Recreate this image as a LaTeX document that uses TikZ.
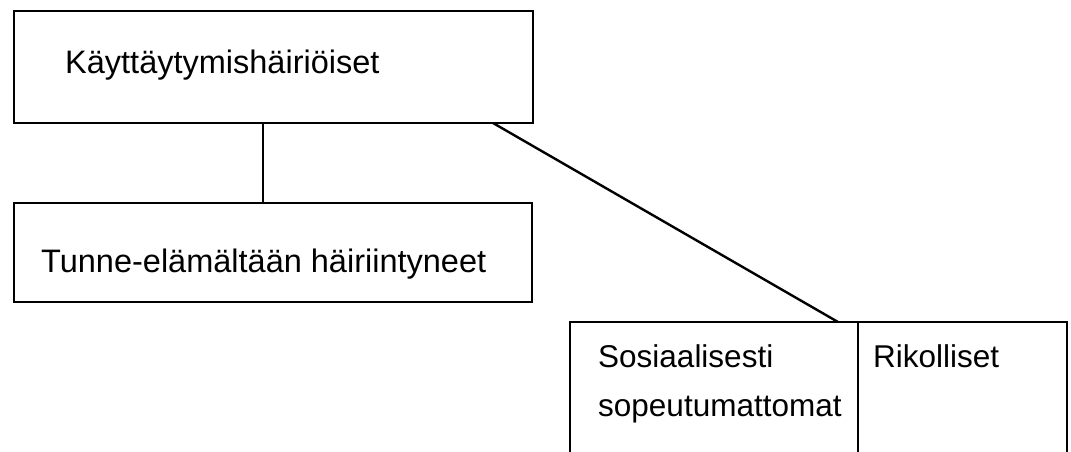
\documentclass[tikz,border=0pt]{standalone}
\usepackage{fontspec}
\setmainfont{Liberation Sans}
\usepackage{tikz}

\begin{document}
\begin{tikzpicture}[x=1pt,y=-1pt,line width=2.4pt,
  box/.style={draw,rectangle,anchor=north west,inner sep=0pt,outer sep=0pt},
  txt/.style={anchor=base west,inner sep=0pt,font=\fontsize{32.5}{39}\selectfont}]
\clip (0,0) rectangle (1071,452);
% boxes
\node[box,minimum width=519pt,minimum height=112pt] (kayt) at (14,11) {};
\node[box,minimum width=518pt,minimum height=99pt] (tunne) at (14,203) {};
\node[box,minimum width=288pt,minimum height=160pt] (sosi) at (570,322) {};
\node[box,minimum width=209pt,minimum height=160pt] (rikol) at (858,322) {};
% texts
\node[txt] (kaytlbl) at (64,74) {Käyttäytymishäiriöiset};
\node[txt] (tunnelbl) at (40,272) {Tunne-elämältään häiriintyneet};
\node[txt,font=\fontsize{31.5}{38}\selectfont] (sosilbl) at (597,367) {Sosiaalisesti};
\node[txt,font=\fontsize{31.5}{38}\selectfont] (sopelbl) at (597,416) {sopeutumattomat};
\node[txt,font=\fontsize{31.5}{38}\selectfont] (rikollbl) at (872,367) {Rikolliset};
% connectors
\draw ([xshift=249pt]kayt.south west) -- ([xshift=249pt]tunne.north west);
\draw ([xshift=479pt]kayt.south west) -- ([xshift=-20pt]sosi.north east);
\end{tikzpicture}
\end{document}
